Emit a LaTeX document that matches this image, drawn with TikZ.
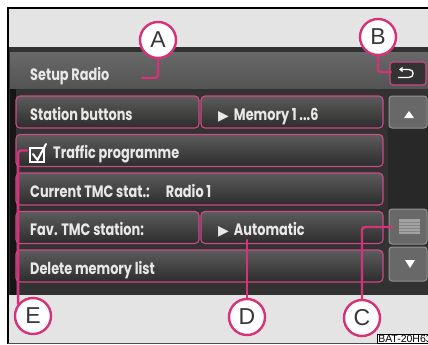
\documentclass[tikz,border=0pt]{standalone}
\usepackage{fontspec}
\setmainfont{Poppins}[FakeStretch=0.78]
\newfontfamily\calloutfont{Liberation Sans}
\newfontfamily\symfont{DejaVu Sans}
\usetikzlibrary{arrows.meta}
\definecolor{lightband}{RGB}{228,228,228}
\definecolor{screen}{RGB}{50,50,50}
\definecolor{hdrtop}{RGB}{104,104,104}
\definecolor{hdrbot}{RGB}{84,84,84}
\definecolor{rowtop}{RGB}{92,92,92}
\definecolor{rowbot}{RGB}{44,44,44}
\definecolor{rowpink}{RGB}{204,74,136}
\definecolor{callpink}{RGB}{214,50,122}
\definecolor{calltxt}{RGB}{55,55,55}
\definecolor{uitxt}{RGB}{232,232,232}
\definecolor{btnfill}{RGB}{104,104,104}
\definecolor{btnedge}{RGB}{146,146,146}
\definecolor{track}{RGB}{40,40,40}
\begin{document}
\begin{tikzpicture}[x=1pt,y=-1pt,
  rowbox/.style={draw=rowpink, line width=1.1pt, rounded corners=4pt, top color=rowtop, bottom color=rowbot},
  scrollbtn/.style={draw=btnedge, line width=1pt, rounded corners=3pt, fill=btnfill},
  uitext/.style={anchor=base west, text=uitxt, inner sep=0pt, font=\bfseries\fontsize{16.5}{16.5}\selectfont},
  callout/.style={circle, draw=callpink, line width=2.4pt, fill=white, minimum size=36pt, inner sep=0pt, text=calltxt, font=\calloutfont\fontsize{23}{23}\selectfont},
  lead/.style={draw=callpink, line width=2.4pt, rounded corners=3pt, line cap=round},
]
\useasboundingbox (0,0) rectangle (428,345);
\clip (0,0) rectangle (428,345);
% frame and background
\fill[white] (0,0) rectangle (428,345);
\fill[lightband] (8,8) rectangle (430,47);
\fill[screen] (9,47) rectangle (430,295);
\fill[lightband] (8,295) rectangle (430,344);
\fill[black!55!screen] (10,88) rectangle (16,295);
\draw[black, line width=1.4pt] (8,344) -- (8,8) -- (430,8);
\draw[black!70, line width=1pt] (8,343.5) -- (430,343.5);
% header bar
\fill[top color=hdrtop, bottom color=hdrbot] (10,53) rectangle (430,88);
\node[uitext] (title) at (30,80) {Setup Radio};
% back button
\path[draw=rowpink, line width=1.1pt, rounded corners=3pt, fill=black!80] (390,62) rectangle (426,85);
\draw[white, line width=1.3pt, -{Triangle[length=3.5pt,width=5pt]}] (398,77.5) -- (409,77.5) .. controls (414.5,77.5) and (414.5,69.5) .. (409,69.5) -- (399,69.5);
% rows
\path[rowbox] (16,96) rectangle (199,128);
\path[rowbox] (201,96) rectangle (383,128);
\path[rowbox] (16,134.5) rectangle (383,166.5);
\path[rowbox] (16,173) rectangle (383,205);
\path[rowbox] (16,211.5) rectangle (199,243.5);
\path[rowbox] (201,211.5) rectangle (383,243.5);
\path[rowbox] (16,250) rectangle (383,282);
% row texts
\node[uitext] (station) at (30,120) {Station buttons};
\node[uitext] (memory) at (218,120) {{\symfont\fontsize{14}{14}\selectfont ▶}\hspace{5pt}Memory 1 ...6};
\draw[white, line width=1.2pt] (30,148) rectangle (44,162);
\draw[white, line width=2pt, line cap=round, line join=round] (33,154) -- (37.5,160) -- (46,144);
\node[uitext] (traffic) at (53,158.5) {Traffic programme};
\node[uitext] (current) at (30,197) {Current TMC stat.:\hspace{16pt}Radio 1};
\node[uitext] (fav) at (30,235.5) {Fav. TMC station:};
\node[uitext] (auto) at (218,235.5) {{\symfont\fontsize{14}{14}\selectfont ▶}\hspace{5pt}Automatic};
\node[uitext] (delete) at (30,274) {Delete memory list};
% scroll column
\fill[track] (388,128) rectangle (430,209);
\path[scrollbtn] (389,96) rectangle (427,128);
\fill[white] (404,118) -- (414,118) -- (409,111) -- cycle;
\path[scrollbtn] (389,209) rectangle (427,244);
\fill[btnedge!85!white] (399,219) rectangle (420,234);
\foreach \yy in {222,225,228,231} \draw[btnfill!80!white, line width=0.6pt] (399,\yy) -- (420,\yy);
\path[scrollbtn] (389,247) rectangle (427,281);
\fill[white] (405,260) -- (415,260) -- (410,268) -- cycle;
% callout circles
\node[callout] (A) at (158,40) {A};
\node[callout] (B) at (378,37) {B};
\node[callout] (C) at (362,318) {C};
\node[callout] (D) at (247,317) {D};
\node[callout] (E) at (33,316) {E};
% callout targets
\coordinate (Aend) at (142,78);
\coordinate (Bend) at (391,72);
\coordinate (Cend) at (392,227);
\coordinate (Dend) at (247,240);
\coordinate (Eend) at (27,150.5);
% callout leaders
\draw[lead] (A.south) |- (Aend);
\draw[lead] (B.south) |- (Bend);
\draw[lead] (C.north) |- (Cend);
\draw[lead] (D.north) -- (Dend);
\draw[lead] (E.141) |- (Eend);
% figure label
\node[draw=black, line width=0.5pt, fill=white, anchor=north west, inner sep=1pt, font=\calloutfont\fontsize{10.5}{10.5}\selectfont] (bat) at (377,334) {BAT-20H63};
\end{tikzpicture}
\end{document}
